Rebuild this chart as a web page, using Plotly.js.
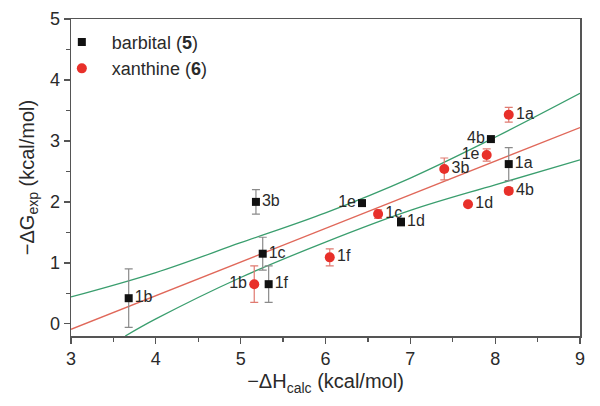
<!DOCTYPE html>
<html><head><meta charset="utf-8">
<script src="https://cdn.plot.ly/plotly-3.0.1.min.js"></script>
<style>html,body{margin:0;padding:0;background:#fff}#plot{width:600px;height:406px}</style>
</head><body><div id="plot"></div>
<script>
// barbital (5)
const barbX = [3.68, 5.18, 5.26, 5.33, 6.43, 6.89, 7.95, 8.16];
const barbY = [0.42, 2.00, 1.15, 0.65, 1.98, 1.67, 3.03, 2.62];
const barbErr = [0.48, 0.20, 0.27, 0.30, 0.03, 0.07, 0.02, 0.27];
const barbLabels = ["1b", "3b", "1c", "1f", "1e", "1d", "4b", "1a"];
const barbPos = ["middle right","middle right","middle right","middle right","middle left","middle right","middle left","middle right"];
// xanthine (6)
const xanX = [5.16, 6.05, 6.62, 7.68, 7.40, 7.90, 8.16, 8.16];
const xanY = [0.65, 1.09, 1.80, 1.96, 2.54, 2.77, 3.43, 2.18];
const xanErr = [0.30, 0.14, 0.07, 0.03, 0.18, 0.10, 0.12, 0.05];
const xanLabels = ["1b", "1f", "1c", "1d", "3b", "1e", "1a", "4b"];
const xanPos = ["middle left","middle right","middle right","middle right","middle right","middle left","middle right","middle right"];
// fit line and confidence band
const fitX = [3, 9];
const fitY = [-0.09, 3.22];
const upX = [3, 4, 5, 6, 7, 8, 9];
const upY = [0.44, 0.84, 1.33, 1.82, 2.39, 3.06, 3.78];
const loX = [3.64, 4, 5, 6, 7, 8, 9];
const loY = [-0.20, 0.08, 0.76, 1.34, 1.86, 2.28, 2.69];

const FONT = "Liberation Sans, Arial, sans-serif";
const TXT = "#2a2a2a";
const traces = [
  {x: upX, y: upY, mode: "lines", line: {color: "#3a9e6e", width: 1.3, shape: "spline"}, showlegend: false, hoverinfo: "skip"},
  {x: loX, y: loY, mode: "lines", line: {color: "#3a9e6e", width: 1.3, shape: "spline"}, showlegend: false, hoverinfo: "skip"},
  {x: fitX, y: fitY, mode: "lines", line: {color: "#e0685a", width: 1.3}, showlegend: false, hoverinfo: "skip"},
  {x: barbX, y: barbY, mode: "markers+text", name: "\u00a0\u00a0barbital (<b>5</b>)",
   text: barbLabels, textposition: barbPos, textfont: {family: FONT, size: 16, color: TXT},
   marker: {symbol: "square", size: 8, color: "#111"},
   error_y: {type: "data", array: barbErr, visible: true, color: "#8a8a8a", thickness: 1.2, width: 4}},
  {x: xanX, y: xanY, mode: "markers+text", name: "\u00a0\u00a0xanthine (<b>6</b>)",
   text: xanLabels, textposition: xanPos, textfont: {family: FONT, size: 16, color: TXT},
   marker: {symbol: "circle", size: 10, color: "#e8302a"},
   error_y: {type: "data", array: xanErr, visible: true, color: "#e07a70", thickness: 1.2, width: 4}}
];

const layout = {
  width: 600, height: 406,
  margin: {l: 71, r: 20, t: 19, b: 70},
  paper_bgcolor: "#fff", plot_bgcolor: "#fff",
  font: {family: FONT, size: 16, color: TXT},
  showlegend: true,
  legend: {x: -0.018, y: 0.985, xanchor: "left", yanchor: "top", bgcolor: "rgba(0,0,0,0)",
           font: {family: FONT, size: 18, color: TXT}, itemwidth: 30, tracegroupgap: 0},
  xaxis: {range: [3, 9], dtick: 1, tick0: 3, showgrid: false, zeroline: false,
          showline: true, linecolor: "#555", linewidth: 1.5, mirror: true,
          ticks: "outside", ticklen: 6, tickwidth: 1.3, tickcolor: "#555",
          minor: {dtick: 0.5, ticks: "outside", ticklen: 4, tickcolor: "#555", tickwidth: 1.2},
          tickfont: {family: FONT, size: 18, color: TXT},
          title: {text: "\u2212\u0394H<sub>calc</sub> (kcal/mol)", font: {family: FONT, size: 20, color: TXT}, standoff: 6}},
  yaxis: {range: [-0.2, 5], dtick: 1, tick0: 0, showgrid: false, zeroline: false,
          showline: true, linecolor: "#555", linewidth: 1.5, mirror: true,
          ticks: "outside", ticklen: 6, tickwidth: 1.3, tickcolor: "#555",
          minor: {dtick: 0.5, ticks: "outside", ticklen: 4, tickcolor: "#555", tickwidth: 1.2},
          tickfont: {family: FONT, size: 18, color: TXT},
          title: {text: "\u2212\u0394G<sub>exp</sub> (kcal/mol)", font: {family: FONT, size: 20, color: TXT}, standoff: 10}}
};
Plotly.newPlot("plot", traces, layout, {displayModeBar: false, staticPlot: true});
</script></body></html>
